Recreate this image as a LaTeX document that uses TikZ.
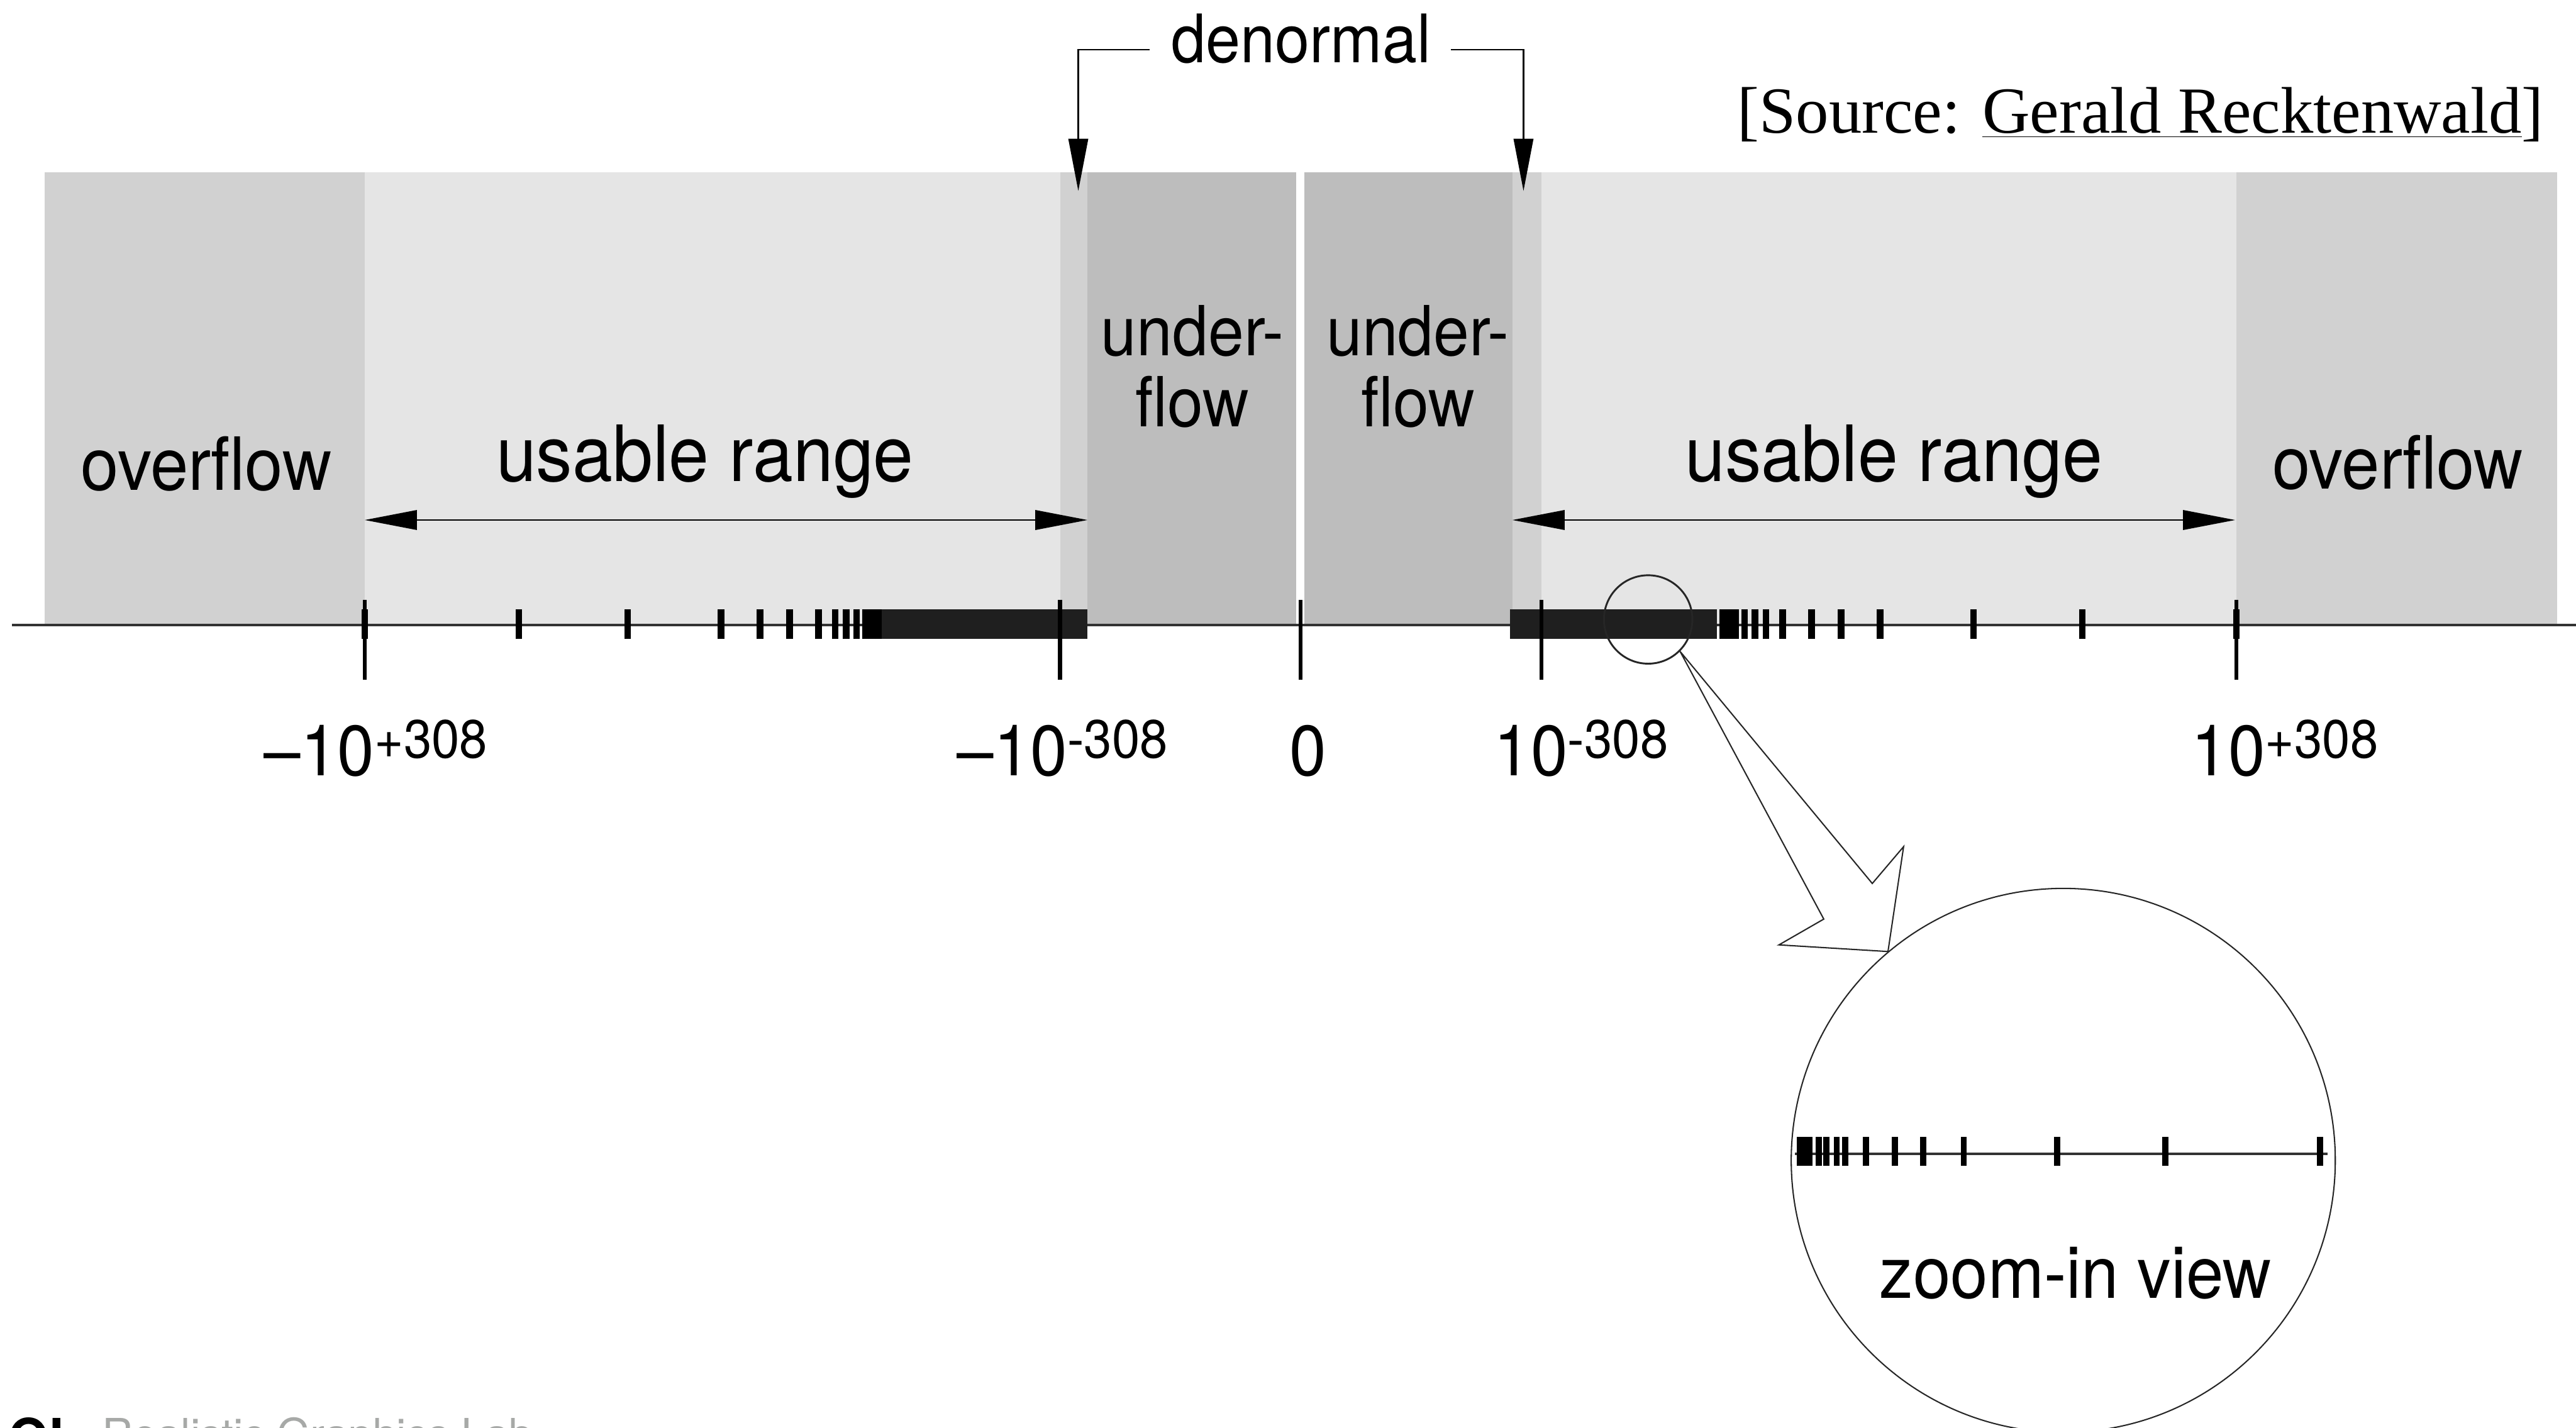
\documentclass[tikz,border=0pt]{standalone}
\usepackage{fontspec}
\setmainfont{TeX Gyre Heros}
\newfontfamily\srcfont{Liberation Serif}
\usepackage{tikz}
\usetikzlibrary{arrows.meta}
\usetikzlibrary{calc}

\definecolor{overgray}{gray}{0.82}
\definecolor{usegray}{gray}{0.90}
\definecolor{undergray}{gray}{0.74}
\definecolor{bargray}{gray}{0.12}
\definecolor{fraggray}{RGB}{167,169,167}

\tikzstyle{lbl} = [inner sep=0pt, xscale=0.93, font=\fontsize{33}{34}\selectfont]
\tikzstyle{val} = [lbl, anchor=base]
\tikzstyle{dim} = [line width=0.7pt, >={Triangle[length=0.85cm,width=0.32cm]}, ->]
\tikzstyle{dimboth} = [dim, <->]
\tikzstyle{major} = [line width=1.9pt]
\tikzstyle{minor} = [line width=3.1pt]

\newcommand{\expo}[1]{\raisebox{8pt}{\fontsize{25}{25}\selectfont #1}}

\begin{document}
\begin{tikzpicture}
\useasboundingbox (-21.18,-13.07) rectangle (20.77,10.18);
\clip (-21.18,-13.07) rectangle (20.77,10.18);

% ranges above the line
\fill[overgray] (-20.45,0) rectangle (-15.24,7.37);
\fill[usegray] (-15.24,0) rectangle (-3.91,7.37);
\fill[overgray] (-3.91,0) rectangle (-3.47,7.37);
\fill[undergray] (-3.47,0) rectangle (-0.07,7.37);
\fill[undergray] (0.06,0) rectangle (3.45,7.37);
\fill[overgray] (3.45,0) rectangle (3.92,7.37);
\fill[usegray] (3.92,0) rectangle (15.24,7.37);
\fill[overgray] (15.24,0) rectangle (20.46,7.37);

\draw[line width=1pt, black!80] (-20.98,0) -- (20.77,0);

% packed numbers near zero
\fill[bargray] (-6.85,-0.23) rectangle (-3.47,0.26);
\fill[bargray] (3.41,-0.23) rectangle (6.78,0.26);
\foreach \x in {6.88,6.98,7.08,7.23,7.40,7.58,7.85,8.32,8.80,9.44,10.96,12.73,15.24}
{
\draw[minor] (\x,-0.23) -- (\x,0.26);
\draw[minor] (-\x,-0.23) -- (-\x,0.26);
}
\foreach \x in {-15.24,-3.92,0,3.92,15.24}
\draw[major] (\x,-0.89) -- (\x,0.41);

\draw[dimboth] (-15.24,1.71) -- (-3.47,1.71);
\draw[dimboth] (3.45,1.71) -- (15.22,1.71);

\draw(-17.82,2.20) node[lbl,anchor=base,font=\fontsize{34}{35}\selectfont] (ovL) {overflow};
\draw(17.87,2.22) node[lbl,anchor=base,font=\fontsize{34}{35}\selectfont] (ovR) {overflow};
\draw(-9.70,2.34) node[lbl,anchor=base,font=\fontsize{36}{37}\selectfont] (usL) {usable range};
\draw(9.66,2.34) node[lbl,anchor=base,font=\fontsize{36}{37}\selectfont] (usR) {usable range};
\draw(-1.76,5.21) node[lbl,anchor=north,align=center,font=\fontsize{32}{32.7}\selectfont] (unL) {under-\\flow};
\draw(1.91,5.21) node[lbl,anchor=north,align=center,font=\fontsize{32}{32.7}\selectfont] (unR) {under-\\flow};

% denormal bracket
\draw(0.01,9.16) node[lbl,anchor=base,font=\fontsize{31}{32}\selectfont] (dn) {denormal};
\coordinate (dnL) at (-3.62,7.07);
\coordinate (dnR) at (3.63,7.07);
\draw[dim] ([shift={(-0.35,0.21)}]dn.base west) -| (dnL);
\draw[dim] ([shift={(0.32,0.21)}]dn.base east) -| (dnR);

\draw(20.25,8.01) node[anchor=base east,inner sep=0pt,font=\srcfont\fontsize{30.5}{31}\selectfont] (src) {[Source: \underline{Gerald Recktenwald}]};

% values under the line
\draw(-15.06,-2.45) node[val] (vmL) {--10\expo{+308}};
\draw(-3.88,-2.45) node[val] (vnL) {--10\expo{-308}};
\draw(0.12,-2.45) node[val] (v0) {0};
\draw(4.57,-2.45) node[val] (vnR) {10\expo{-308}};
\draw(16.03,-2.45) node[val] (vmR) {10\expo{+308}};

% magnifier
\draw(5.66,0.09) node[circle,draw=black!85,line width=0.85pt,minimum size=1.44cm,inner sep=0pt] (lens) {};
\draw(12.42,-8.72) node[circle,draw=black!85,line width=0.6pt,minimum size=8.86cm,inner sep=0pt] (view) {};
\draw[line width=0.6pt, black!85] (lens.-45) -- (8.52,-4.79) -- (7.79,-5.21) -- (view.130) -- (9.82,-3.61) -- (9.31,-4.21) -- cycle;

\draw[line width=1.1pt, black!80] (8.05,-8.61) -- (16.72,-8.61);
\foreach \x in {8.13,8.21,8.29,8.44,8.56,8.73,8.87,9.21,9.68,10.14,10.80,12.32,14.08,16.60}
\draw[line width=2.8pt] (\x,-8.81) -- (\x,-8.34);
\draw(12.62,-10.96) node[lbl,anchor=base,font=\fontsize{33.5}{34}\selectfont] (zv) {zoom-in view};

\draw(-21.05,-12.90) node[anchor=north west,inner sep=0pt,font=\bfseries\fontsize{24}{24}\selectfont] (logo) {OL};
\draw(-19.52,-12.90) node[anchor=north west,inner sep=0pt,text=fraggray,font=\fontsize{20}{20}\selectfont] (lab) {Realistic Graphics Lab};

\end{tikzpicture}
\end{document}
